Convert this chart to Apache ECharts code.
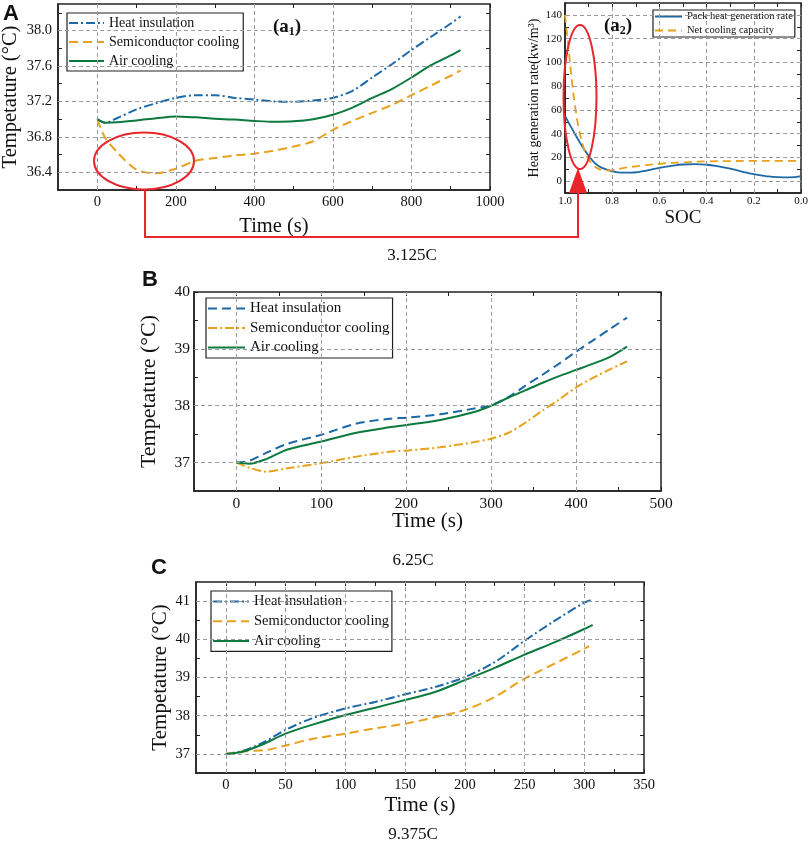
<!DOCTYPE html>
<html>
<head>
<meta charset="utf-8">
<title>Battery pack temperature</title>
<script src="https://cdn.jsdelivr.net/npm/echarts@6.0.0/dist/echarts.min.js"></script>
<style>
  html, body { margin: 0; padding: 0; background: #fff; }
  #main { width: 809px; height: 843px; }
</style>
</head>
<body>
<div id="main"></div>
<script>
// ---------- data ----------
// (a1) 3.125C, temperature vs time
const a1Time = [0, 20, 50, 100, 150, 200, 250, 300, 350, 400, 450, 500, 550, 600, 650, 700, 750, 800, 850, 900, 925];
const a1Heat = [37.0, 36.96, 37.01, 37.11, 37.18, 37.24, 37.27, 37.27, 37.24, 37.22, 37.2, 37.195, 37.21, 37.24, 37.32, 37.47, 37.62, 37.78, 37.93, 38.08, 38.16];
const a1Semi = [37.0, 36.79, 36.63, 36.43, 36.39, 36.44, 36.53, 36.56, 36.59, 36.61, 36.645, 36.69, 36.75, 36.88, 36.98, 37.07, 37.16, 37.27, 37.38, 37.49, 37.55];
const a1Air = [37.0, 36.96, 36.965, 36.985, 37.01, 37.03, 37.02, 37.005, 36.995, 36.98, 36.97, 36.975, 37.0, 37.05, 37.13, 37.24, 37.34, 37.47, 37.61, 37.72, 37.78];

// (a2) heat generation vs SOC
const a2PackSoc = [1.0, 0.97, 0.95, 0.92, 0.9, 0.87, 0.84, 0.8, 0.76, 0.72, 0.68, 0.64, 0.6, 0.55, 0.5, 0.45, 0.4, 0.35, 0.3, 0.25, 0.2, 0.15, 0.1, 0.05, 0.0];
const a2PackRate = [55, 44, 37, 27, 21.5, 14.5, 11, 8.3, 7.2, 7.2, 8, 9.5, 11.2, 12.8, 14, 14.3, 13.8, 12.4, 10.5, 8, 5.8, 4.3, 3.4, 3.2, 4.2];
const a2CoolSoc = [1.0, 0.985, 0.97, 0.955, 0.94, 0.925, 0.91, 0.895, 0.88, 0.86, 0.84, 0.82, 0.8, 0.76, 0.7, 0.6, 0.5, 0.4, 0.3, 0.2, 0.1, 0.0];
const a2CoolRate = [140, 112, 83, 60, 43, 31, 22, 17, 13.5, 10.5, 9.3, 9, 9.3, 10.8, 12.5, 14.6, 15.8, 16.6, 16.9, 17, 17, 17];

// (B) 6.25C
const bTime = [0, 15, 35, 60, 100, 140, 180, 200, 240, 280, 300, 320, 340, 360, 380, 400, 420, 440, 460];
const bHeat = [37.0, 37.03, 37.17, 37.33, 37.49, 37.68, 37.77, 37.79, 37.85, 37.95, 38.01, 38.15, 38.35, 38.54, 38.74, 38.95, 39.15, 39.35, 39.55];
const bSemi = [37.0, 36.91, 36.84, 36.9, 36.99, 37.1, 37.19, 37.21, 37.27, 37.36, 37.42, 37.52, 37.7, 37.91, 38.11, 38.32, 38.49, 38.64, 38.78];
const bAir = [37.0, 36.98, 37.06, 37.23, 37.37, 37.52, 37.62, 37.66, 37.75, 37.89, 38.0, 38.14, 38.27, 38.4, 38.52, 38.63, 38.74, 38.86, 39.04];

// (C) 9.375C
const cTime = [0, 13, 30, 50, 72, 100, 125, 150, 175, 200, 225, 250, 275, 300, 307];
const cHeat = [37.0, 37.07, 37.28, 37.63, 37.93, 38.19, 38.36, 38.56, 38.75, 39.01, 39.4, 39.96, 40.48, 40.96, 41.04];
const cAir = [37.0, 37.05, 37.24, 37.53, 37.76, 38.02, 38.21, 38.41, 38.62, 38.93, 39.25, 39.6, 39.92, 40.27, 40.38];
const cSemiTime = [0, 16, 35, 50, 72, 100, 125, 150, 175, 200, 225, 250, 275, 300, 304];
const cSemi = [37.0, 37.07, 37.11, 37.22, 37.39, 37.53, 37.67, 37.79, 37.96, 38.15, 38.49, 38.97, 39.36, 39.75, 39.82];

// tick labels / tick marks / grid lines
const a1XLabels = [0, 200, 400, 600, 800, 1000];
const a1XTicks = [0, 100, 200, 300, 400, 500, 600, 700, 800, 900, 1000];
const a1YLabels = [36.4, 36.8, 37.2, 37.6, 38.0];
const a1YTicks = [36.4, 36.6, 36.8, 37.0, 37.2, 37.4, 37.6, 37.8, 38.0, 38.2];
const a2XLabels = [1.0, 0.8, 0.6, 0.4, 0.2, 0.0];
const a2XTicks = [1.0, 0.9, 0.8, 0.7, 0.6, 0.5, 0.4, 0.3, 0.2, 0.1, 0.0];
const a2YLabels = [0, 20, 40, 60, 80, 100, 120, 140];
const a2YTicks = [0, 10, 20, 30, 40, 50, 60, 70, 80, 90, 100, 110, 120, 130, 140];
const bXLabels = [0, 100, 200, 300, 400, 500];
const bXTicks = [0, 50, 100, 150, 200, 250, 300, 350, 400, 450, 500];
const bYLabels = [37, 38, 39, 40];
const bYTicks = [37, 37.5, 38, 38.5, 39, 39.5, 40];
const cXLabels = [0, 50, 100, 150, 200, 250, 300, 350];
const cXTicks = [0, 25, 50, 75, 100, 125, 150, 175, 200, 225, 250, 275, 300, 325, 350];
const cYLabels = [37, 38, 39, 40, 41];
const cYTicks = [37, 37.5, 38, 38.5, 39, 39.5, 40, 40.5, 41];

// ---------- styles ----------
const SERIF = '"Liberation Serif", "Times New Roman", serif';
const SANS = '"Liberation Sans", Arial, sans-serif';
const BLUE = '#1d68a6';
const ORANGE = '#e8a11b';
const GREEN = '#0c7a3e';
const RED = '#e8262b';
const DASH = [9, 5];
const DASHDOT = [9, 3, 2, 3];

function pairs(xs, ys) {
  return xs.map((x, i) => [x, ys[i]]);
}

// one value axis, labels and ticks placed at the given values
function axis(o) {
  return {
    type: 'value',
    gridIndex: o.grid,
    min: o.min,
    max: o.max,
    inverse: !!o.inverse,
    name: o.name,
    nameLocation: 'middle',
    nameGap: o.nameGap,
    nameMoveOverlap: false,
    nameTextStyle: { fontFamily: SERIF, fontSize: o.nameSize, color: '#111' },
    axisLine: { show: true, onZero: false, lineStyle: { color: '#222', width: 1.5 } },
    axisTick: { show: true, inside: true, length: 4, customValues: o.ticks, lineStyle: { color: '#222', width: 1 } },
    axisLabel: {
      customValues: o.labels, margin: o.margin, fontFamily: SERIF,
      fontSize: o.labelSize, color: '#111', formatter: o.fmt || (v => String(v))
    },
    splitLine: { show: false }
  };
}

// same scale on the opposite side of the frame: ticks only
function mirror(a, pos) {
  return Object.assign({}, a, {
    position: pos, name: '', axisLine: { show: false, onZero: false },
    axisLabel: { show: false }
  });
}

// dashed grey grid lines drawn through the axis scale
function gridLines(i, xs, ys) {
  return {
    type: 'line', xAxisIndex: i, yAxisIndex: i, data: [], silent: true, z: 1,
    markLine: {
      silent: true, symbol: ['none', 'none'], label: { show: false }, animation: false,
      lineStyle: { color: '#9a9a9a', width: 1, type: [4, 3] },
      data: xs.map(v => ({ xAxis: v })).concat(ys.map(v => ({ yAxis: v })))
    }
  };
}

function line(i, name, data, color, dash, width) {
  return {
    type: 'line', name: name, xAxisIndex: i, yAxisIndex: i, data: data,
    symbol: 'none', smooth: 0.3, z: 3, color: color,
    lineStyle: { color: color, width: width || 2, type: dash || 'solid' }
  };
}

function legendBox(o) {
  return {
    orient: 'vertical', left: o.left, top: o.top, data: o.names,
    formatter: n => n.split('|')[1],
    itemWidth: o.iconW, itemHeight: o.itemH, itemGap: o.gap, padding: o.pad,
    backgroundColor: '#fff', borderColor: '#222', borderWidth: 1.2,
    selectedMode: false,
    // hide the marker dot, keep only the line sample
    itemStyle: { color: 'transparent', borderWidth: 0, opacity: 0 },
    textStyle: { fontFamily: SERIF, fontSize: o.size, color: '#111' }
  };
}

function label(text, x, y, font) {
  return {
    type: 'text', x: x, y: y, z: 100,
    style: { text: text, textAlign: 'center', textVerticalAlign: 'middle', font: font, fill: '#111' }
  };
}

function subLabel(main, sub, x, y) {
  return {
    type: 'text', x: x, y: y, z: 100,
    style: {
      text: '{b|' + main + '}{s|' + sub + '}{b|)}',
      textAlign: 'center', textVerticalAlign: 'middle', fill: '#111',
      rich: {
        b: { fontFamily: SERIF, fontSize: 19, fontWeight: 'bold', lineHeight: 22 },
        s: { fontFamily: SERIF, fontSize: 12, fontWeight: 'bold', lineHeight: 12, verticalAlign: 'bottom' }
      }
    }
  };
}

// red ring drawn as four bezier quarters (no scaling, so the stroke stays even)
function ring(cx, cy, rx, ry) {
  const k = 0.5523;
  const quarters = [
    [rx, 0, 0, ry, rx, k * ry, k * rx, ry],
    [0, ry, -rx, 0, -k * rx, ry, -rx, k * ry],
    [-rx, 0, 0, -ry, -rx, -k * ry, -k * rx, -ry],
    [0, -ry, rx, 0, k * rx, -ry, rx, -k * ry]
  ];
  return {
    type: 'group', x: cx, y: cy, z: 100,
    children: quarters.map(q => ({
      type: 'bezierCurve', z: 100,
      shape: { x1: q[0], y1: q[1], x2: q[2], y2: q[3], cpx1: q[4], cpy1: q[5], cpx2: q[6], cpy2: q[7] },
      style: { fill: 'none', stroke: RED, lineWidth: 2 }
    }))
  };
}

function frame(left, top, width, height) {
  return { left, top, width, height, show: true, borderColor: '#222', borderWidth: 1.5, outerBoundsMode: 'none' };
}

const xMain = [
  axis({ grid: 0, min: -100, max: 1000, labels: a1XLabels, ticks: a1XTicks, name: 'Time (s)', nameGap: 26, nameSize: 20.5, labelSize: 14.5, margin: 5 }),
  axis({ grid: 1, min: 0, max: 1, inverse: true, labels: a2XLabels, ticks: a2XTicks, name: 'SOC', nameGap: 16, nameSize: 19, labelSize: 11, margin: 3, fmt: v => v.toFixed(1) }),
  axis({ grid: 2, min: -50, max: 500, labels: bXLabels, ticks: bXTicks, name: 'Time (s)', nameGap: 20, nameSize: 21, labelSize: 15.5, margin: 5 }),
  axis({ grid: 3, min: -25, max: 350, labels: cXLabels, ticks: cXTicks, name: 'Time (s)', nameGap: 22, nameSize: 21, labelSize: 14.5, margin: 5 })
];
const yMain = [
  axis({ grid: 0, min: 36.2, max: 38.3, labels: a1YLabels, ticks: a1YTicks, name: 'Tempetature (°C)', nameGap: 37, nameSize: 20.5, labelSize: 14.5, margin: 6, fmt: v => v.toFixed(1) }),
  axis({ grid: 1, min: -10, max: 150, labels: a2YLabels, ticks: a2YTicks, name: 'Heat generation rate(kw/m³)', nameGap: 24, nameSize: 14, labelSize: 11, margin: 3 }),
  axis({ grid: 2, min: 36.5, max: 40, labels: bYLabels, ticks: bYTicks, name: 'Tempetature (°C)', nameGap: 34, nameSize: 22, labelSize: 15.5, margin: 4 }),
  axis({ grid: 3, min: 36.5, max: 41.5, labels: cYLabels, ticks: cYTicks, name: 'Tempetature (°C)', nameGap: 25, nameSize: 21, labelSize: 14.5, margin: 6 })
];

const chart = echarts.init(document.getElementById('main'));

const option = {
  animation: false,
  textStyle: { fontFamily: SERIF },
  grid: [
    frame(58, 4, 432, 186),
    frame(565, 3, 236, 190),
    frame(194, 292, 467, 199),
    frame(196, 582, 448, 191)
  ],
  xAxis: xMain.map(a => Object.assign({ position: 'bottom' }, a)).concat(xMain.map(a => mirror(a, 'top'))),
  yAxis: yMain.map(a => Object.assign({ position: 'left' }, a)).concat(yMain.map(a => mirror(a, 'right'))),
  legend: [
    legendBox({ left: 67, top: 13, names: ['a1|Heat insulation', 'a1|Semiconductor cooling', 'a1|Air cooling'], iconW: 35, itemH: 14, gap: 5, pad: [3, 4, 3, 1], size: 14 }),
    legendBox({ left: 653, top: 10, names: ['a2|Pack heat generation rate', 'a2|Net cooling capacity'], iconW: 27, itemH: 11, gap: 3, pad: [1, 2, 1, 1], size: 10.5 }),
    legendBox({ left: 206, top: 298, names: ['b|Heat insulation', 'b|Semiconductor cooling', 'b|Air cooling'], iconW: 37, itemH: 15, gap: 4.5, pad: [3, 3, 3, 1], size: 15 }),
    legendBox({ left: 211, top: 591, names: ['c|Heat insulation', 'c|Semiconductor cooling', 'c|Air cooling'], iconW: 36, itemH: 14, gap: 4.7, pad: [3, 3, 3, 1], size: 14.5 })
  ],
  series: [
    gridLines(0, [0, 200, 400, 600, 800], [36.4, 36.8, 37.2, 37.6, 38.0]),
    line(0, 'a1|Heat insulation', pairs(a1Time, a1Heat), BLUE, DASHDOT),
    line(0, 'a1|Semiconductor cooling', pairs(a1Time, a1Semi), ORANGE, DASH),
    line(0, 'a1|Air cooling', pairs(a1Time, a1Air), GREEN),

    gridLines(1, [0.8, 0.6, 0.4, 0.2], [0, 20, 40, 60, 80, 100, 120, 140]),
    Object.assign(line(1, 'a2|Pack heat generation rate', pairs(a2PackSoc, a2PackRate), BLUE, null, 1.8), { smooth: 0.5 }),
    Object.assign(line(1, 'a2|Net cooling capacity', pairs(a2CoolSoc, a2CoolRate), ORANGE, [8, 5], 1.8), { smooth: 0.5 }),

    gridLines(2, [0, 100, 200, 300, 400], [37, 38, 39]),
    line(2, 'b|Heat insulation', pairs(bTime, bHeat), BLUE, DASH),
    line(2, 'b|Semiconductor cooling', pairs(bTime, bSemi), ORANGE, DASHDOT),
    line(2, 'b|Air cooling', pairs(bTime, bAir), GREEN),

    gridLines(3, [0, 50, 100, 150, 200, 250, 300], [37, 38, 39, 40, 41]),
    line(3, 'c|Heat insulation', pairs(cTime, cHeat), BLUE, DASHDOT),
    line(3, 'c|Semiconductor cooling', pairs(cSemiTime, cSemi), ORANGE, DASH),
    line(3, 'c|Air cooling', pairs(cTime, cAir), GREEN)
  ],
  graphic: [
    label('A', 11, 14, 'bold 22px ' + SANS),
    label('B', 150, 280, 'bold 22px ' + SANS),
    label('C', 159, 568, 'bold 22px ' + SANS),
    subLabel('(a', '1', 287, 27),
    subLabel('(a', '2', 618, 26),
    label('3.125C', 412, 256, '17px ' + SERIF),
    label('6.25C', 413, 561, '17px ' + SERIF),
    label('9.375C', 413, 835, '17px ' + SERIF),
    // red callout: circled dip in (a1) linked to circled peak in (a2)
    ring(144, 161, 50, 28.5),
    ring(580, 97, 16.5, 72),
    {
      type: 'polyline', z: 100,
      shape: { points: [[145, 190], [145, 237], [578, 237], [578, 192]] },
      style: { fill: 'none', stroke: RED, lineWidth: 2 }
    },
    {
      type: 'polygon', z: 100,
      shape: { points: [[578, 168], [569, 193], [587, 193]] },
      style: { fill: RED }
    }
  ]
};

chart.setOption(option);
</script>
</body>
</html>
